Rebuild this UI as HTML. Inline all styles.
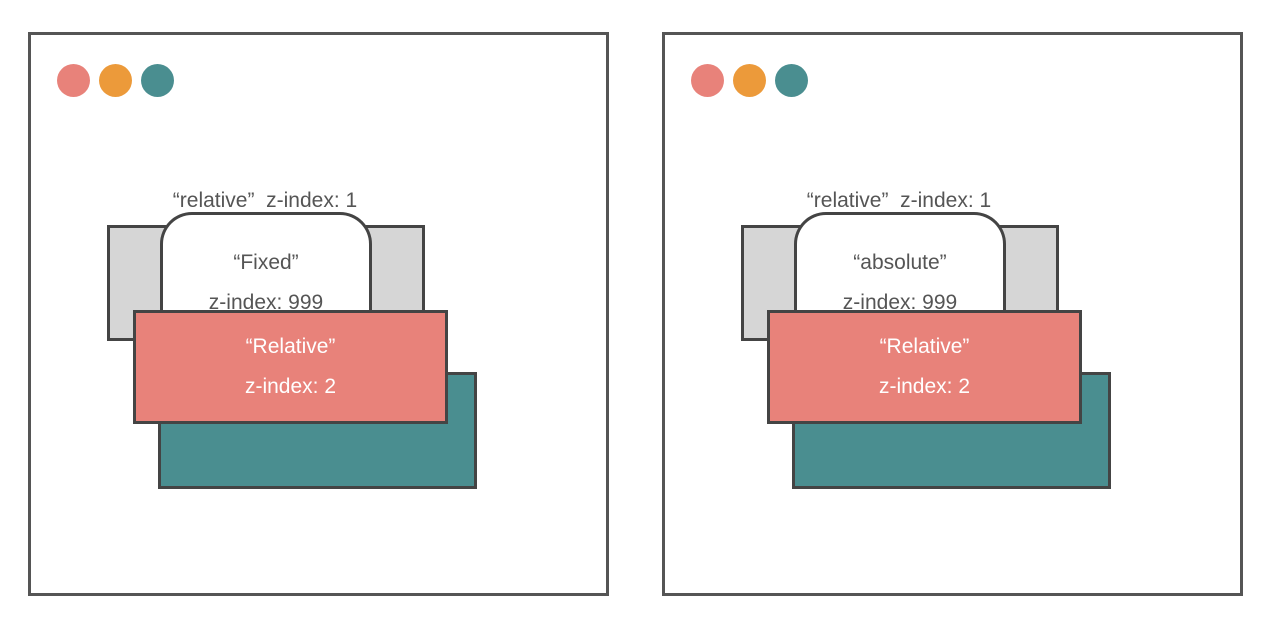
<!DOCTYPE html>
<html><head><meta charset="utf-8"><style>
body{margin:0;width:1276px;height:620px;background:#fff;position:relative;overflow:hidden;font-family:"Liberation Sans",sans-serif}
.a{position:absolute;box-sizing:border-box}
.panel{border:3px solid #555}
.dot{width:33px;height:33px;border-radius:50%}
.gray{background:#d6d6d6;border:3px solid #444}
.white{background:#fff;border:3px solid #444;border-radius:32px 32px 0 0;border-bottom:none;overflow:hidden}
.red{background:#e8827a;border:3px solid #444}
.teal{background:#4a8e90;border:3px solid #444}
.t{position:absolute;left:0;right:0;text-align:center;font-size:21px;color:#555;white-space:nowrap}
.w{color:#fff}
</style></head><body>
<div id="root"></div>
<script>
const panels=[{dx:0,label:"\u201cFixed\u201d",name:'left'},{dx:634,label:"\u201cabsolute\u201d",name:'right'}];
const root=document.getElementById('root');
function mk(cls,x,y,w,h,name,html){const d=document.createElement('div');d.className='a '+cls;d.style.left=x+'px';d.style.top=y+'px';if(w)d.style.width=w+'px';if(h)d.style.height=h+'px';


if(html)d.innerHTML=html;root.appendChild(d);return d;}
panels.forEach(p=>{const dx=p.dx;
mk('panel',28+dx,32,581,564,p.name+'-browser-window');
mk('dot',57+dx,64,0,0,p.name+'-dot-red').style.background='#e8827a';
mk('dot',99+dx,64,0,0,p.name+'-dot-orange').style.background='#ec9a3a';
mk('dot',141+dx,64,0,0,p.name+'-dot-teal').style.background='#4a8e90';
mk('',100+dx,189,330,30,p.name+'-parent-label','<div class="t" style="top:0">\u201crelative\u201d&nbsp; z-index: 1</div>');
mk('gray',107+dx,225,318,116,p.name+'-relative-parent-box');
mk('white',160+dx,212,212,100,p.name+'-child-box','<div class="t" style="top:36px">'+p.label+'</div><div class="t" style="top:76px">z-index: 999</div>');
mk('teal',158+dx,372,319,117,p.name+'-teal-box');
mk('red',133+dx,310,315,114,p.name+'-relative-box','<div class="t w" style="top:22px">\u201cRelative\u201d</div><div class="t w" style="top:62px">z-index: 2</div>');
});
</script>
</body></html>
